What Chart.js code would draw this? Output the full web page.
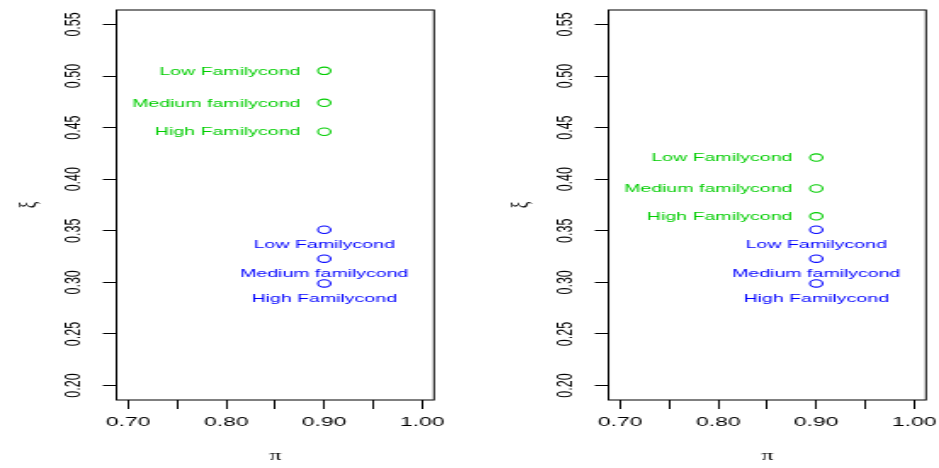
<!DOCTYPE html>
<html>
<head>
<meta charset="utf-8">
<script src="https://cdn.jsdelivr.net/npm/chart.js@4.4.1/dist/chart.umd.min.js"></script>
<style>
  html, body { margin: 0; padding: 0; background: #fff; overflow: hidden; width: 939px; height: 468px; }
  canvas { position: absolute; top: 0; transform-origin: 0 0; }
</style>
</head>
<body>
<canvas id="panel-left" width="276" height="468"></canvas>
<canvas id="panel-right" width="276" height="468"></canvas>
<script>
// values
const CATEGORIES = ['Low Familycond', 'Medium familycond', 'High Familycond'];
const PI_VALUES = [0.90, 0.90, 0.90];
const XI_GREEN_LEFT = [0.505, 0.474, 0.446];
const XI_BLUE_LEFT = [0.351, 0.323, 0.299];
const XI_GREEN_RIGHT = [0.421, 0.391, 0.364];
const XI_BLUE_RIGHT = [0.351, 0.323, 0.299];

const X_TICKS = [0.70, 0.75, 0.80, 0.85, 0.90, 0.95, 1.00];
const X_TICK_LABELS = ['0.70', '', '0.80', '', '0.90', '', '1.00'];
const Y_TICKS = [0.20, 0.25, 0.30, 0.35, 0.40, 0.45, 0.50, 0.55];
const Y_TICK_LABELS = ['0.20', '0.25', '0.30', '0.35', '0.40', '0.45', '0.50', '0.55'];

const X_RANGE = [0.688, 1.012];
const Y_RANGE = [0.186, 0.564];

// the original picture is stretched sideways, so every canvas is too
const SX = 1.7;
const CANVAS_W = 276;
const BOX_LEFT = 116.5;
const BOX_RIGHT = 434;
const GREEN = '#00CD00';
const BLUE = '#0000FF';
const SANS = '"Liberation Sans", Arial, Helvetica, sans-serif';
const SERIF = '"Liberation Serif", "DejaVu Serif", serif';

const rPlotPlugin = {
  id: 'rPlot',
  afterDatasetsDraw(chart) {
    const { ctx, chartArea: a } = chart;
    ctx.save();
    ctx.strokeStyle = '#000';
    ctx.lineWidth = 1;
    ctx.strokeRect(a.left, a.top, a.right - a.left, a.bottom - a.top);
    ctx.font = '11.5px ' + SANS;
    ctx.textBaseline = 'middle';
    chart.data.datasets.forEach((ds, i) => {
      const meta = chart.getDatasetMeta(i);
      ctx.fillStyle = ds.borderColor;
      meta.data.forEach((pt, j) => {
        if (ds.labelPos === 'left') {
          ctx.textAlign = 'right';
          ctx.fillText(CATEGORIES[j], pt.x - 14, pt.y + 0.5);
        } else {
          ctx.textAlign = 'center';
          ctx.fillText(CATEGORIES[j], pt.x, pt.y + 15);
        }
      });
    });
    ctx.restore();
  }
};

function makeSeries(ys) {
  return ys.map((y, i) => ({ x: PI_VALUES[i], y: y }));
}

function makePanel(id, cssLeft, greenXi, blueXi) {
  const canvas = document.getElementById(id);
  canvas.style.left = cssLeft + 'px';
  canvas.style.transform = 'scaleX(' + SX + ')';

  return new Chart(canvas, {
    type: 'scatter',
    data: {
      datasets: [{
        data: makeSeries(greenXi),
        labelPos: 'left',
        borderColor: GREEN,
        backgroundColor: 'rgba(0,0,0,0)',
        pointRadius: 3.7,
        pointBorderWidth: 1.1
      }, {
        data: makeSeries(blueXi),
        labelPos: 'below',
        borderColor: BLUE,
        backgroundColor: 'rgba(0,0,0,0)',
        pointRadius: 3.7,
        pointBorderWidth: 1.1
      }]
    },
    options: {
      responsive: false,
      animation: false,
      events: [],
      layout: {
        padding: { top: 10, left: 0, bottom: 0, right: CANVAS_W - BOX_RIGHT / SX }
      },
      plugins: {
        legend: { display: false },
        tooltip: { enabled: false }
      },
      scales: {
        x: {
          type: 'linear',
          position: 'bottom',
          min: X_RANGE[0],
          max: X_RANGE[1],
          afterBuildTicks: (s) => { s.ticks = X_TICKS.map(v => ({ value: v })); },
          afterFit: (s) => { s.height = 68; s.paddingLeft = 0; s.paddingRight = 0; },
          border: { display: false },
          grid: { drawOnChartArea: false, drawTicks: true, tickLength: 9, tickColor: '#000', tickWidth: 1 },
          ticks: {
            autoSkip: false, minRotation: 0, maxRotation: 0, padding: 5.5, color: '#000',
            font: { family: SANS, size: 13.5 },
            callback: (v, i) => X_TICK_LABELS[i]
          },
          title: {
            display: true, text: 'π', color: '#000',
            font: { family: SERIF, size: 14 },
            padding: { top: 0, bottom: 3 }
          }
        },
        y: {
          type: 'linear',
          position: 'left',
          min: Y_RANGE[0],
          max: Y_RANGE[1],
          afterBuildTicks: (s) => { s.ticks = Y_TICKS.map(v => ({ value: v })); },
          afterFit: (s) => { s.width = BOX_LEFT / SX; s.paddingTop = 0; s.paddingBottom = 0; },
          border: { display: false },
          grid: { drawOnChartArea: false, drawTicks: true, tickLength: 8, tickColor: '#000', tickWidth: 1 },
          ticks: {
            autoSkip: false, minRotation: 90, maxRotation: 90, crossAlign: 'center', padding: 4.5, color: '#000',
            font: { family: SANS, size: 12.5 },
            callback: (v, i) => Y_TICK_LABELS[i]
          },
          title: {
            display: true, text: 'ξ', color: '#000',
            font: { family: SERIF, size: 15 },
            padding: { top: 8, bottom: 0 }
          }
        }
      }
    },
    plugins: [rPlotPlugin]
  });
}

makePanel('panel-left', 0, XI_GREEN_LEFT, XI_BLUE_LEFT);
makePanel('panel-right', 491.8, XI_GREEN_RIGHT, XI_BLUE_RIGHT);
</script>
</body>
</html>
